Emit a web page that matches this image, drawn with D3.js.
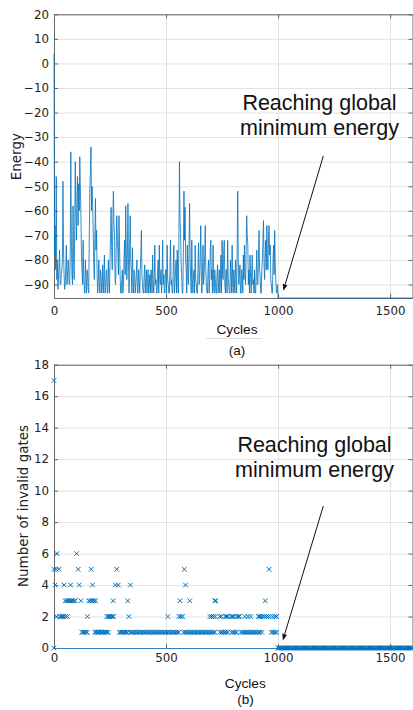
<!DOCTYPE html>
<html>
<head>
<meta charset="utf-8">
<script src="https://cdn.jsdelivr.net/npm/d3@7"></script>
<style>
  html, body { margin: 0; padding: 0; background: #fff; }
  svg { display: block; }
</style>
</head>
<body>
<svg id="fig" width="413" height="710"></svg>
<script>
// ---------------------------------------------------------------
// (a) Energy of the annealer, one sample every 2.5 cycles (cycles 0–997.5)
const energyStep = 2.5;
const energy = [
  4, -78, -66, -84, -46, -88, -80, -92, -88, -82, -76, -90, -90, -86, -84, -80, -48, -76, -86, -92,
  -90, -84, -74, -90, -88, -80, -82, -90, -90, -78, -36, -70, -86, -90, -58, -80, -88, -66, -40, -60,
  -72, -55, -46, -66, -49, -60, -38, -50, -61, -78, -84, -90, -72, -88, -90, -93.5, -80, -88, -93.5, -84,
  -86, -92, -93.5, -70, -51.6, -44, -34, -60, -50, -58, -68, -82, -88, -70, -55, -76, -68, -86, -93.5, -88,
  -80, -90, -93.5, -84, -86, -93.5, -90, -82, -93.5, -88, -78, -93.5, -92, -86, -84, -93.5, -93.5, -80, -88, -93.5,
  -80, -70, -58.6, -76, -84, -66, -52, -64, -70, -88, -90, -76, -62, -72, -76, -86, -62, -74, -86, -93.5,
  -93.5, -88, -84, -93.5, -90, -80, -72, -86, -58, -76, -88, -78, -57, -82, -93.5, -76, -62, -80, -84, -93.5,
  -75, -88, -93.5, -84, -86, -93.5, -90, -86, -80, -93.5, -93.5, -84, -88, -93.5, -84, -78, -68, -86, -90, -93.5,
  -93.5, -86, -82, -93.5, -88, -84, -93.5, -88, -84, -93.5, -90, -86, -93.5, -84, -86, -93.5, -78, -88, -93.5, -86,
  -74, -90, -88, -93.5, -93.5, -84, -80, -93.5, -74, -88, -90, -84, -93.5, -88, -72, -90, -86, -93.5, -93.5, -84,
  -84, -93.5, -74, -88, -90, -93.5, -93.5, -84, -72, -90, -88, -93.5, -93.5, -82, -74, -93.5, -90, -84, -80, -93.5,
  -76, -88, -93.5, -70, -40, -64, -69, -82, -86, -93.5, -93.5, -76, -52, -72, -58.5, -80, -84, -93.5, -74, -88,
  -90, -76, -57, -80, -88, -93.5, -72, -88, -93.5, -86, -84, -93.5, -74, -88, -90, -93.5, -93.5, -84, -73, -90,
  -88, -80, -66, -84, -93.5, -86, -74, -90, -86, -78, -66, -84, -90, -93.5, -93.5, -84, -80, -93.5, -88, -76,
  -72, -88, -84, -93.5, -74, -90, -93.5, -84, -88, -93.5, -93.5, -86, -82, -93.5, -90, -84, -93.5, -88, -78, -93.5,
  -72, -86, -88, -76, -72, -90, -93.5, -84, -84, -93.5, -72, -88, -90, -93.5, -93.5, -80, -86, -93.5, -74, -90,
  -93.5, -84, -88, -93.5, -80, -88, -93.5, -76, -52, -80, -90, -86, -82, -93.5, -93.5, -84, -86, -93.5, -78, -88,
  -74, -86, -90, -76, -62, -70, -74, -90, -84, -93.5, -78, -88, -93.5, -84, -78, -90, -88, -93.5, -84, -93.5,
  -93.5, -86, -76, -90, -90, -80, -68, -84, -86, -93.5, -93.5, -84, -80, -72, -64, -82, -88, -78, -72, -84,
  -66, -80, -84, -70, -66, -78, -74, -88, -90, -93.5, -93.5, -80, -74, -86, -68, -82, -88, -93.5, -93.5, -90
];
// from cycle 1000 on the energy sits at the global minimum
const energyTailCycles = [1000, 1600];
const energyTail = [-95.5, -95.5];

const energyTicks = [20, 10, 0, -10, -20, -30, -40, -50, -60, -70, -80, -90];
const cycleTicks = [0, 500, 1000, 1500];
const gateTicks = [0, 2, 4, 6, 8, 10, 12, 14, 16, 18];

// ---------------------------------------------------------------
// (b) Number of invalid gates: cycles at which each count was observed
const cyclesAt17 = [0];
const cyclesAt6 = [14, 101];
const cyclesAt5 = [0, 10, 22, 108, 166, 280, 582, 960];
const cyclesAt4 = [5, 45, 74, 113, 172, 274, 287, 341, 587];
const cyclesAt3 = [50, 58, 64, 70, 76, 82, 88, 95, 120, 155, 162, 170, 178, 186, 264, 329, 562, 606, 718, 722, 943];
const cyclesAt2 = [12, 26, 32, 38, 44, 52, 60, 149, 236, 242, 248, 254, 260, 266, 334, 508, 558, 566, 574,
  696, 704, 712, 720, 740, 746, 764, 770, 776, 790, 796, 802, 816, 822, 828, 852, 866, 878,
  912, 918, 924, 932, 940, 948, 956, 966, 976, 986, 994];
const cyclesAt1 = [124, 130, 136, 142, 148,
  182, 188, 194, 200, 206, 212, 218, 224, 230, 236, 242,
  292, 298, 304, 310, 316, 322, 328,
  340, 347, 354, 361, 368, 375, 382, 389, 396, 403, 410, 417, 424, 431, 438, 445, 452, 459, 466, 473, 480,
  487, 494, 501, 508, 515, 522, 529, 536, 543, 550, 557,
  578, 585, 592, 599, 606, 613, 620, 627, 634, 641, 648, 655, 662, 669, 676, 683, 690, 697, 704, 711, 718,
  740, 747, 754, 761, 768, 776,
  792, 800, 808, 815,
  834, 841, 848, 855, 862, 869, 876, 883, 890, 897, 904, 911, 918,
  928,
  970, 978, 986, 994];
const cyclesAt0 = [0,
  1000, 1005, 1010, 1015, 1020, 1025, 1030, 1035, 1040, 1045, 1050, 1055, 1060, 1065, 1070, 1075, 1080, 1085, 1090, 1095,
  1100, 1105, 1110, 1115, 1120, 1125, 1130, 1135, 1140, 1145, 1150, 1155, 1160, 1165, 1170, 1175, 1180, 1185, 1190, 1195,
  1200, 1205, 1210, 1215, 1220, 1225, 1230, 1235, 1240, 1245, 1250, 1255, 1260, 1265, 1270, 1275, 1280, 1285, 1290, 1295,
  1300, 1305, 1310, 1315, 1320, 1325, 1330, 1335, 1340, 1345, 1350, 1355, 1360, 1365, 1370, 1375, 1380, 1385, 1390, 1395,
  1400, 1405, 1410, 1415, 1420, 1425, 1430, 1435, 1440, 1445, 1450, 1455, 1460, 1465, 1470, 1475, 1480, 1485, 1490, 1495,
  1500, 1505, 1510, 1515, 1520, 1525, 1530, 1535, 1540, 1545, 1550, 1555, 1560, 1565, 1570, 1575, 1580, 1585, 1590, 1595,
  1600];

const annotationLines = ["Reaching global", "minimum energy"];

// ---------------------------------------------------------------
const BLUE = "#0072BD";
const AXIS = "#666666";
const GRID = "#e2e2e2";
const TEXT = "#222222";
const TICK_FONT = "'DejaVu Sans', sans-serif";
const HELV = "'Liberation Sans', Arial, sans-serif";
const intFormat = d3.format("d");

const svg = d3.select("#fig");

const plotLeft = 54, plotRight = 412.5;

const x = d3.scaleLinear().domain([0, 1600]).range([plotLeft, plotRight]);
const yA = d3.scaleLinear().domain([-95.5, 20]).range([298, 14.3]);
const yB = d3.scaleLinear().domain([0, 18]).range([648, 364.7]);

function styleAxis(g, showLabels) {
  g.attr("font-family", TICK_FONT).attr("font-size", 11.8);
  g.selectAll(".tick line").attr("stroke", AXIS);
  g.selectAll(".tick text").attr("fill", TEXT);
  g.select(".domain").attr("stroke", AXIS);
  if (!showLabels) g.selectAll(".tick text").remove();
}

function drawPanel(y, yTicks, labelPad, xAxisColor) {
  const top = y.range()[1], bottom = y.range()[0];
  const g = svg.append("g");

  // grid
  g.append("g")
    .attr("transform", `translate(${plotLeft},0)`)
    .call(d3.axisLeft(y).tickValues(yTicks).tickSize(-(plotRight - plotLeft)).tickFormat(""))
    .call(s => { s.select(".domain").remove(); s.selectAll("line").attr("stroke", GRID); });
  g.append("g")
    .attr("transform", `translate(0,${bottom})`)
    .call(d3.axisBottom(x).tickValues(cycleTicks.slice(1)).tickSize(-(bottom - top)).tickFormat(""))
    .call(s => { s.select(".domain").remove(); s.selectAll("line").attr("stroke", GRID); });

  // box with inward ticks
  g.append("g")
    .attr("transform", `translate(${plotLeft},0)`)
    .call(d3.axisLeft(y).tickValues(yTicks).tickFormat(intFormat)
      .tickSizeInner(-4).tickSizeOuter(0).tickPadding(5))
    .call(s => styleAxis(s, true));
  g.append("g")
    .attr("transform", `translate(${plotRight},0)`)
    .call(d3.axisRight(y).tickValues(yTicks).tickSizeInner(-4).tickSizeOuter(0))
    .call(s => styleAxis(s, false));
  g.append("g")
    .attr("transform", `translate(0,${top})`)
    .call(d3.axisTop(x).tickValues(cycleTicks).tickSizeInner(-4).tickSizeOuter(0))
    .call(s => styleAxis(s, false));
  const xb = g.append("g")
    .attr("transform", `translate(0,${bottom})`)
    .call(d3.axisBottom(x).tickValues(cycleTicks).tickFormat(intFormat)
      .tickSizeInner(-4).tickSizeOuter(0).tickPadding(labelPad))
    .call(s => styleAxis(s, true));
  xb.select(".domain").attr("stroke", xAxisColor);
  return g;
}

function annotate(cx, baseline, arrowFrom, arrowTo) {
  const t = svg.append("text")
    .attr("font-family", HELV).attr("font-size", 21.5).attr("fill", "#111")
    .attr("text-anchor", "middle");
  annotationLines.forEach((line, i) => {
    t.append("tspan").attr("x", cx).attr("y", baseline + i * 24.8).text(line);
  });
  const dx = arrowTo[0] - arrowFrom[0], dy = arrowTo[1] - arrowFrom[1];
  const len = Math.hypot(dx, dy), ux = dx / len, uy = dy / len;
  const headL = 6.5, headW = 2.4;
  const bx = arrowTo[0] - ux * headL, by = arrowTo[1] - uy * headL;
  svg.append("line")
    .attr("x1", arrowFrom[0]).attr("y1", arrowFrom[1]).attr("x2", bx).attr("y2", by)
    .attr("stroke", "#111").attr("stroke-width", 1);
  svg.append("path")
    .attr("d", `M${arrowTo[0]},${arrowTo[1]}L${bx - uy * headW},${by + ux * headW}L${bx + uy * headW},${by - ux * headW}Z`)
    .attr("fill", "#111");
}

// ---------------- panel (a) ----------------
drawPanel(yA, energyTicks, 9, AXIS);

const energySeries = energy.map((v, i) => [i * energyStep, v])
  .concat(energyTailCycles.map((c, i) => [c, energyTail[i]]));

svg.append("path")
  .datum(energySeries)
  .attr("fill", "none")
  .attr("stroke", BLUE)
  .attr("stroke-width", 0.8)
  .attr("stroke-linejoin", "miter")
  .attr("d", d3.line().x(d => x(d[0])).y(d => yA(d[1])));

svg.append("text")
  .attr("transform", `translate(20.5,${(yA(-95.5) + yA(20)) / 2 + 0.5}) rotate(-90)`)
  .attr("text-anchor", "middle")
  .attr("font-family", TICK_FONT).attr("font-size", 13.5).attr("fill", TEXT)
  .text("Energy");

svg.append("line")
  .attr("x1", 206).attr("x2", 262).attr("y1", 338.5).attr("y2", 338.5)
  .attr("stroke", "#dcdcdc").attr("stroke-width", 1);
svg.append("text")
  .attr("x", 237).attr("y", 334).attr("text-anchor", "middle")
  .attr("font-family", HELV).attr("font-size", 13.7).attr("fill", "#111")
  .text("Cycles");
svg.append("text")
  .attr("x", 237).attr("y", 355).attr("text-anchor", "middle")
  .attr("font-family", HELV).attr("font-size", 13.5).attr("fill", "#111")
  .text("(a)");

annotate(319.5, 110.4, [323.3, 156], [283.3, 290.7]);

// ---------------- panel (b) ----------------
drawPanel(yB, gateTicks, 6, "#2f7fc1");

const gatePoints = [];
[[17, cyclesAt17], [6, cyclesAt6], [5, cyclesAt5], [4, cyclesAt4], [3, cyclesAt3],
 [2, cyclesAt2], [1, cyclesAt1], [0, cyclesAt0]].forEach(([count, cycles]) => {
  cycles.forEach(c => gatePoints.push([c, count]));
});

const m = 2.3;
svg.append("g")
  .selectAll("path")
  .data(gatePoints)
  .join("path")
  .attr("transform", d => `translate(${x(d[0])},${yB(d[1])})`)
  .attr("d", `M${-m},${-m}L${m},${m}M${-m},${m}L${m},${-m}`)
  .attr("stroke", BLUE)
  .attr("stroke-width", 1)
  .attr("fill", "none");

svg.append("text")
  .attr("transform", `translate(28.3,506) rotate(-90)`)
  .attr("text-anchor", "middle")
  .attr("font-family", TICK_FONT).attr("font-size", 13.5).attr("fill", TEXT)
  .text("Number of invalid gates");

svg.append("text")
  .attr("x", 245.3).attr("y", 688).attr("text-anchor", "middle")
  .attr("font-family", HELV).attr("font-size", 13.7).attr("fill", "#111")
  .text("Cycles");
svg.append("text")
  .attr("x", 245.5).attr("y", 703.5).attr("text-anchor", "middle")
  .attr("font-family", HELV).attr("font-size", 13.5).attr("fill", "#111")
  .text("(b)");

annotate(314.5, 452, [323.3, 506], [282.8, 640.5]);
</script>
</body>
</html>
